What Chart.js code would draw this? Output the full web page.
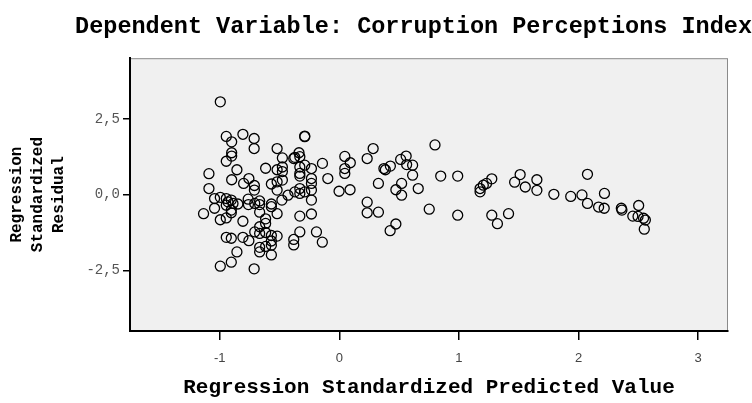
<!DOCTYPE html>
<html>
<head>
<meta charset="utf-8">
<script src="https://cdn.jsdelivr.net/npm/chart.js@4/dist/chart.umd.min.js"></script>
<style>
  html, body { margin: 0; padding: 0; background: #fff; }
  #wrap { width: 752px; height: 403px; position: relative; }
</style>
</head>
<body>
<div id="wrap"><canvas id="resid"></canvas></div>
<script>
/* data */
var predicted = [
  -0.995, -0.945, -0.90, -0.806, -0.712, -0.712, -0.90, -0.90, -0.945, -1.09,
  -1.09, -0.856, -0.90, -0.756, -0.80, -0.71, -0.71, -0.616, -0.52, -0.476,
  -0.52, -0.476, -0.476, -0.568, -0.52, -0.476, -0.52, -0.381, -0.337, -0.33,
  -0.289, -0.289, -0.372, -0.289, -0.33, -0.33, -0.33, -0.233, -0.233, -0.233,
  -0.233, -0.141, -0.096, 0.046, 0.092, 0.046, 0.046, -0.002, 0.09, 0.233,
  0.283, 0.327, 0.373, 0.385, 0.427, 0.513, 0.559, 0.563, 0.613, 0.613,
  0.521, 0.473, 0.521, 0.66, 0.80, 0.848, 0.99, 0.752, 0.99, 1.177,
  1.177, 1.204, 1.231, 1.275, 1.275, 1.322, 1.415, 1.466, 1.512, 1.555,
  1.652, 1.652, 1.794, 1.935, 2.029, 2.075, 2.217, 2.075, 2.168, 2.215,
  2.358, 2.363, 2.503, 2.454, 2.498, 2.544, 2.559, 2.55,
  -1.043, -0.995, -0.945, -0.931, -0.903, -0.889, -0.848, -0.945, -1.135, -1.043,
  -0.995, -0.945, -0.903, -0.903, -0.806, -0.762, -0.76, -0.707, -0.666, -0.666,
  -0.568, -0.568, -0.666, -0.52, -0.616, -0.616, -0.666, -0.707, -0.666, -0.616,
  -0.568, -0.52, -0.568, -0.945, -0.903, -0.806, -0.756, -0.666, -0.616, -0.568,
  -0.666, -0.568, -0.856, -0.903, -0.995, -0.712, -0.48, -0.429, -0.372, -0.33,
  -0.33, -0.289, -0.233, -0.33, -0.233, -0.33, -0.381, -0.381, -0.191, -0.142,
  0.233, 0.233, 0.327, 0.473, 0.425
];
var residual = [
  3.06, 1.92, 1.74, 1.99, 1.85, 1.52, 1.38, 1.27, 1.10, 0.69,
  0.20, 0.82, 0.49, 0.53, 0.37, 0.30, 0.15, 0.87, 1.52, 1.21,
  0.82, 0.91, 0.76, 0.35, 0.42, 0.48, 0.15, 1.19, 1.38, 1.25,
  1.93, 1.91, 1.23, 0.97, 0.91, 0.70, 0.61, 0.86, 0.53, 0.37,
  0.15, 1.03, 0.53, 1.26, 1.05, 0.86, 0.70, 0.11, 0.16, 1.19,
  1.52, 0.37, 0.86, 0.82, 0.94, 1.16, 1.27, 0.99, 0.97, 0.64,
  0.37, 0.16, -0.02, 0.20, 1.64, 0.61, 0.61, -0.48, -0.68, 0.20,
  0.09, 0.31, 0.37, 0.52, -0.68, -0.96, -0.63, 0.41, 0.66, 0.25,
  0.49, 0.14, 0.01, -0.06, -0.01, 0.67, 0.04, -0.29, -0.41, -0.45,
  -0.45, -0.51, -0.36, -0.71, -0.72, -0.78, -0.84, -1.14,
  -0.13, -0.09, -0.13, -0.24, -0.18, -0.29, -0.31, -0.35, -0.63, -0.45,
  -0.83, -0.77, -0.51, -0.60, -0.88, -0.15, -0.33, -0.29, -0.21, -0.33,
  -0.31, -0.40, -0.58, -0.63, -0.80, -0.95, -1.06, -1.23, -1.28, -1.25,
  -1.35, -1.37, -1.53, -1.41, -1.44, -1.41, -1.52, -1.74, -1.71, -1.67,
  -1.89, -1.99, -1.89, -2.23, -2.36, -2.45, -0.18, -0.02, 0.09, 0.20,
  0.04, 0.09, -0.18, -0.71, -0.64, -1.23, -1.48, -1.66, -1.23, -1.57,
  -0.25, -0.60, -0.58, -0.97, -1.19
];
var xTicks = [-1, 0, 1, 2, 3];
var xTickLabels = ['-1', '0', '1', '2', '3'];
var yTicks = [-2.5, 0, 2.5];
var yTickLabels = ['-2,5', '0,0', '2,5'];

var points = predicted.map(function (x, i) { return { x: x, y: residual[i] }; });

// grey plot panel with thin frame
var plotPanel = {
  id: 'plotPanel',
  beforeDraw: function (chart) {
    var ctx = chart.ctx, a = chart.chartArea;
    ctx.save();
    ctx.fillStyle = '#f0f0f0';
    ctx.fillRect(a.left, a.top, a.right - a.left, a.bottom - a.top);
    ctx.strokeStyle = '#8a8a8a';
    ctx.lineWidth = 1;
    ctx.strokeRect(a.left + 0.5, a.top + 0.5, a.right - a.left - 1, a.bottom - a.top - 1);
    ctx.restore();
  }
};

var mono = 'Liberation Mono, DejaVu Sans Mono, monospace';

new Chart(document.getElementById('resid'), {
  type: 'scatter',
  data: {
    datasets: [{
      data: points,
      pointStyle: 'circle',
      pointRadius: 5,
      pointBorderWidth: 1.3,
      pointBorderColor: '#000',
      pointBackgroundColor: 'rgba(0,0,0,0)'
    }]
  },
  options: {
    responsive: true,
    maintainAspectRatio: false,
    animation: false,
    layout: { padding: 0 },
    plugins: {
      legend: { display: false },
      tooltip: { enabled: false },
      title: {
        display: true,
        text: 'Dependent Variable: Corruption Perceptions Index',
        align: 'end',
        color: '#000',
        font: { family: mono, weight: 'bold', size: 23.5, lineHeight: 1.2 },
        padding: { top: 13, bottom: 17 }
      }
    },
    scales: {
      x: {
        type: 'linear',
        min: -1.75,
        max: 3.25,
        afterFit: function (s) { s.height = 72; },
        afterBuildTicks: function (s) { s.ticks = xTicks.map(function (v) { return { value: v }; }); },
        grid: { drawOnChartArea: false, drawTicks: true, tickLength: 9, color: '#000', lineWidth: 1.5 },
        border: { display: true, color: '#000', width: 2 },
        ticks: {
          padding: 11,
          color: '#444',
          font: { family: 'Liberation Sans, Arial, sans-serif', size: 13 },
          maxRotation: 0,
          callback: function (v, i) { return xTickLabels[i]; }
        },
        title: {
          display: true,
          text: 'Regression Standardized Predicted Value',
          color: '#000',
          font: { family: mono, weight: 'bold', size: 21, lineHeight: 1.2 },
          padding: { top: 0, bottom: 3 }
        }
      },
      y: {
        type: 'linear',
        min: -4.5,
        max: 4.5,
        afterFit: function (s) { s.width = 130; },
        afterBuildTicks: function (s) { s.ticks = yTicks.map(function (v) { return { value: v }; }); },
        grid: { drawOnChartArea: false, drawTicks: true, tickLength: 7, color: '#000', lineWidth: 1.5 },
        border: { display: true, color: '#000', width: 2 },
        ticks: {
          padding: 3,
          color: '#555',
          font: { family: mono, size: 14 },
          callback: function (v, i) { return yTickLabels[i]; }
        },
        title: {
          display: true,
          text: ['Regression', 'Standardized', 'Residual'],
          color: '#000',
          font: { family: mono, weight: 'bold', size: 16, lineHeight: 1.3 },
          padding: { top: 7, bottom: 0 }
        }
      },
      pad: {
        type: 'linear',
        position: 'right',
        display: true,
        afterFit: function (s) { s.width = 24; },
        grid: { display: false },
        border: { display: false },
        ticks: { display: false }
      }
    }
  },
  plugins: [plotPanel]
});
</script>
</body>
</html>
